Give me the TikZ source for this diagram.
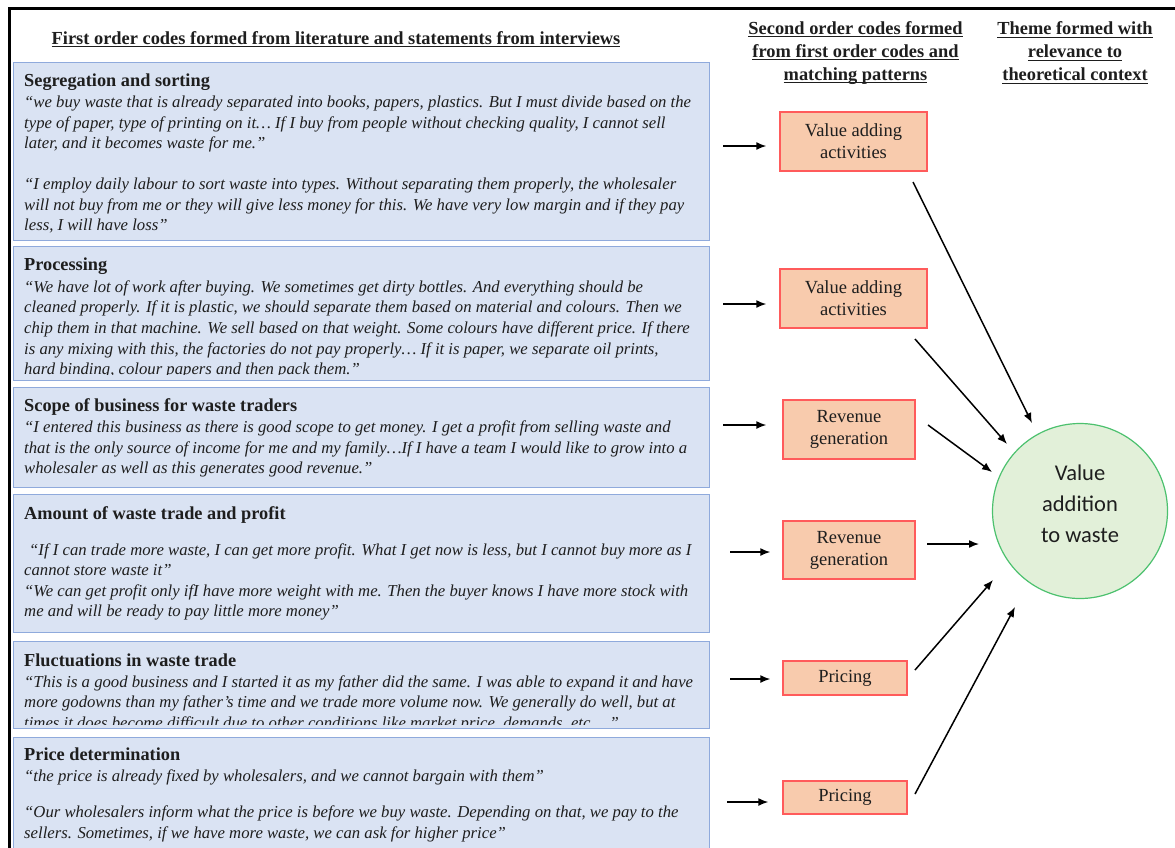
\documentclass[tikz,border=0pt]{standalone}
\usepackage{fontspec}
\setmainfont{Liberation Serif}
\newfontfamily\themefont{Carlito}
\usetikzlibrary{arrows.meta}

\definecolor{quotefill}{HTML}{DAE3F3}
\definecolor{quoteline}{HTML}{8FAADC}
\definecolor{codefill}{HTML}{F8CBAD}
\definecolor{codeline}{HTML}{FF5B5B}
\definecolor{themefill}{HTML}{E2F0D9}
\definecolor{themeline}{HTML}{4CC16E}
\definecolor{ink}{HTML}{1E1E1E}

% underlined heading line with the rule at a fixed depth
\newcommand\uln[1]{\leavevmode\setbox0\hbox{#1}\rlap{\rule[-3pt]{\wd0}{1.1pt}}\box0}
% heading of a first-order code
\newcommand\codehead[1]{{\fontsize{18.3}{20.6}\selectfont\bfseries #1}}
% body of a first-order code box: bold heading followed by italic quotes
\newcommand\quotebody[1]{\parbox[t]{800pt}{\fontsize{16.7}{20.6}\selectfont\raggedright #1}}

\tikzset{
  quotebox/.style={draw=quoteline, fill=quotefill, line width=1.4pt, anchor=north west, inner sep=0pt},
  quotetext/.style={anchor=base west, inner sep=0pt, text=ink},
  codebox/.style={draw=codeline, fill=codefill, line width=1.4pt, inner sep=0pt, align=center,
    font=\fontsize{18.5}{22}\selectfont, text=ink},
  themenode/.style={circle, draw=themeline, fill=themefill, line width=1.2pt, inner sep=0pt,
    minimum size=175pt},
  themetext/.style={align=center, inner sep=0pt, font=\themefont\fontsize{22.5}{31}\selectfont, text=ink},
  colhead/.style={align=center, font=\fontsize{18.4}{23}\selectfont\bfseries, text=ink, inner sep=0pt},
  flow/.style={-{Latex[length=10pt,width=8pt]}, line width=1.5pt, black},
}

\begin{document}
\begin{tikzpicture}[x=1pt, y=-1pt]
\useasboundingbox (0,0) rectangle (1175,847);
\fill[white] (0,0) rectangle (1175,847);

% outer frame (top and left edges)
\draw[line width=3pt, black] (9.5,852) -- (9.5,8) -- (1180,8);

% column headings
\node[colhead, anchor=base] (h1) at (336,44) {\uln{First order codes formed from literature and statements from interviews}};
\node[colhead] (h2) at (855.5,53) {\uln{Second order codes formed}\\\uln{from first order codes and}\\\uln{matching patterns}};
\node[colhead] (h3) at (1075,53) {\uln{Theme formed with}\\\uln{relevance to}\\\uln{theoretical context}};

% ---------- first-order code boxes ----------
\node[quotebox, minimum width=696pt, minimum height=178pt] (q1) at (13,62) {};
\node[quotebox, minimum width=696pt, minimum height=134pt] (q2) at (13,246) {};
\node[quotebox, minimum width=696pt, minimum height=100pt] (q3) at (13,387) {};
\node[quotebox, minimum width=696pt, minimum height=138pt] (q4) at (13,494) {};
\node[quotebox, minimum width=696pt, minimum height=87pt]  (q5) at (13,641) {};
\node[quotebox, minimum width=696pt, minimum height=120pt] (q6) at (13,737) {};

\begin{scope}
\clip ([shift={(1,1)}]q1.north west) rectangle ([shift={(-1,-4)}]q1.south east);
\node[quotetext] (t1) at (24,86) {\quotebody{\codehead{Segregation and sorting}\\[0.8pt]
\itshape “we buy waste that is already separated into books, papers, plastics. But I must divide based on the\\
type of paper, type of printing on it… If I buy from people without checking quality, I cannot sell\\
later, and it becomes waste for me.”\\[20.4pt]
“I employ daily labour to sort waste into types. Without separating them properly, the wholesaler\\
will not buy from me or they will give less money for this. We have very low margin and if they pay\\
less, I will have loss”}};
\end{scope}

\begin{scope}
\clip ([shift={(1,1)}]q2.north west) rectangle ([shift={(-1,-7)}]q2.south east);
\node[quotetext] (t2) at (24,270) {\quotebody{\codehead{Processing}\\[1.6pt]
\itshape “We have lot of work after buying. We sometimes get dirty bottles. And everything should be\\
cleaned properly. If it is plastic, we should separate them based on material and colours. Then we\\
chip them in that machine. We sell based on that weight. Some colours have different price. If there\\
is any mixing with this, the factories do not pay properly… If it is paper, we separate oil prints,\\
hard binding, colour papers and then pack them.”}};
\end{scope}

\begin{scope}
\clip ([shift={(1,1)}]q3.north west) rectangle ([shift={(-1,-1)}]q3.south east);
\node[quotetext] (t3) at (24,411) {\quotebody{\codehead{Scope of business for waste traders}\\[0.8pt]
\itshape “I entered this business as there is good scope to get money. I get a profit from selling waste and\\
that is the only source of income for me and my family…If I have a team I would like to grow into a\\
wholesaler as well as this generates good revenue.”}};
\end{scope}

\begin{scope}
\clip ([shift={(1,1)}]q4.north west) rectangle ([shift={(-1,-1)}]q4.south east);
\node[quotetext] (t4) at (24,519) {\quotebody{\codehead{Amount of waste trade and profit}\\[15.4pt]
\itshape\hspace*{5pt}“If I can trade more waste, I can get more profit. What I get now is less, but I cannot buy more as I\\
cannot store waste it”\\
“We can get profit only ifI have more weight with me. Then the buyer knows I have more stock with\\
me and will be ready to pay little more money”}};
\end{scope}

\begin{scope}
\clip ([shift={(1,1)}]q5.north west) rectangle ([shift={(-1,-5)}]q5.south east);
\node[quotetext] (t5) at (24,666) {\quotebody{\codehead{Fluctuations in waste trade}\\[0.4pt]
\itshape “This is a good business and I started it as my father did the same. I was able to expand it and have\\
more godowns than my father’s time and we trade more volume now. We generally do well, but at\\
times it does become difficult due to other conditions like market price, demands, etc….”}};
\end{scope}

\begin{scope}
\clip ([shift={(1,1)}]q6.north west) rectangle ([shift={(-1,-1)}]q6.south east);
\node[quotetext] (t6) at (24,760) {\quotebody{\codehead{Price determination}\\[0.8pt]
\itshape “the price is already fixed by wholesalers, and we cannot bargain with them”\\[15.4pt]
“Our wholesalers inform what the price is before we buy waste. Depending on that, we pay to the\\
sellers. Sometimes, if we have more waste, we can ask for higher price”}};
\end{scope}

% ---------- second-order codes ----------
\node[codebox, minimum width=147pt, minimum height=59pt] (c1) at (853.5,141.5) {Value adding\\activities};
\node[codebox, minimum width=147pt, minimum height=59pt] (c2) at (853.5,298.5) {Value adding\\activities};
\node[codebox, minimum width=132pt, minimum height=59pt] (c3) at (849,429.5) {Revenue\\generation};
\node[codebox, minimum width=132pt, minimum height=58pt] (c4) at (849,550) {Revenue\\generation};
\node[codebox, minimum width=124pt, minimum height=34pt] (c5) at (845,678) {Pricing};
\node[codebox, minimum width=124pt, minimum height=33pt] (c6) at (845,797.5) {Pricing};

% ---------- theme ----------
\node[themenode] (th) at (1080,511) {};
\node[themetext] (thl) at ([yshift=7pt]th.center) {Value\\addition\\to waste};

% arrows from the first-order codes into the second-order codes
\coordinate (i1) at (723,146);
\coordinate (i2) at (723,304);
\coordinate (i3) at (723,425);
\coordinate (i4) at (730,552);
\coordinate (i5) at (730,679);
\coordinate (i6) at (727,802);
\draw[flow, shorten >=13pt] (i1) -- (i1 -| c1.west);
\draw[flow, shorten >=13pt] (i2) -- (i2 -| c2.west);
\draw[flow, shorten >=16pt] (i3) -- (i3 -| c3.west);
\draw[flow, shorten >=12pt] (i4) -- (i4 -| c4.west);
\draw[flow, shorten >=12pt] (i5) -- (i5 -| c5.west);
\draw[flow, shorten >=14pt] (i6) -- (i6 -| c6.west);

% arrows from the second-order codes into the theme
\coordinate (o1) at (913,182);  \coordinate (e1) at (1032,423);
\coordinate (o2) at (915,339);  \coordinate (e2) at (1007,444);
\coordinate (o3) at (928,425);  \coordinate (e3) at (992,472);
\coordinate (o4) at (927,544);  \coordinate (e4) at (979,544);
\coordinate (o5) at (915,670);  \coordinate (e5) at (993,580);
\coordinate (o6) at (915,794);  \coordinate (e6) at (1015,607);
\draw[flow] (o1) -- (e1);
\draw[flow] (o2) -- (e2);
\draw[flow] (o3) -- (e3);
\draw[flow] (o4) -- (e4);
\draw[flow] (o5) -- (e5);
\draw[flow] (o6) -- (e6);
\end{tikzpicture}
\end{document}
